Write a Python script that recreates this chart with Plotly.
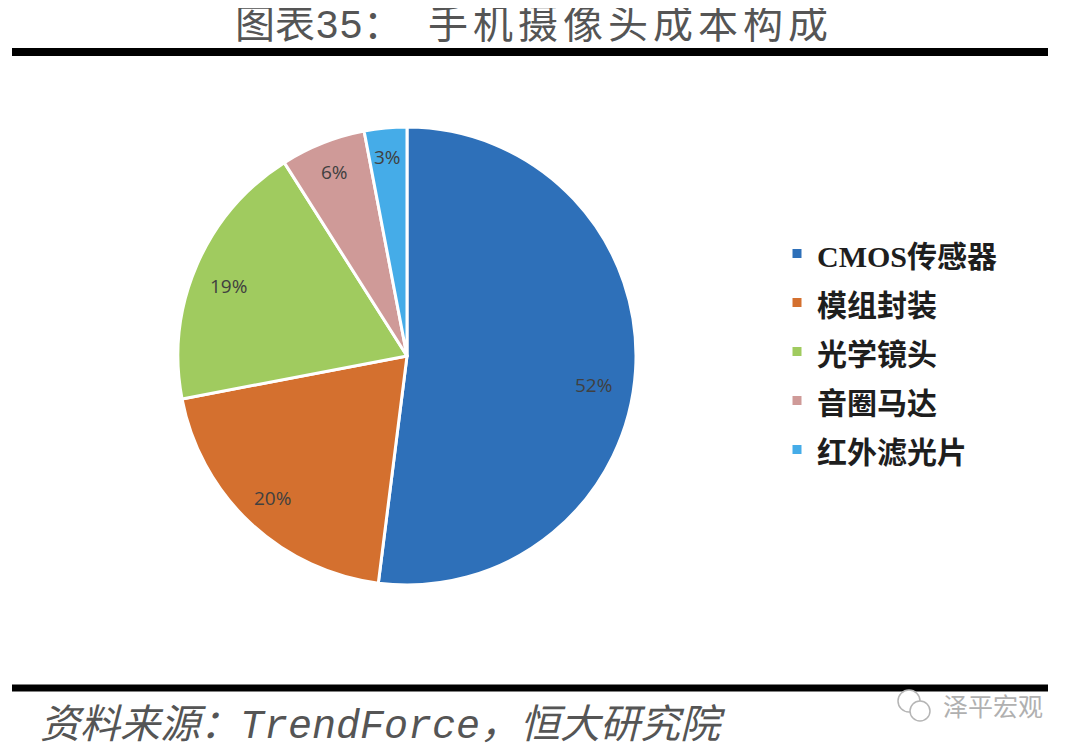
import plotly.graph_objects as go

categories = ["CMOS传感器", "模组封装", "光学镜头", "音圈马达", "红外滤光片"]
values = [52, 20, 19, 6, 3]
colors = ["#2E70B9", "#D4702F", "#A0CB5F", "#CF9A98", "#45ACE8"]
HS = "\u200a\u200a"
title_text = "图表35：\u2002" + HS + HS.join("手机摄像头成本构成")
source_text = "资料来源：TrendForce，恒大研究院"
watermark = "泽平宏观"

# The page is photographed with an 8px body margin, so the figure is smaller
# than the window and every window pixel position is shifted by that margin.
OFFSET = 8
W, H = 1080 - OFFSET, 753 - OFFSET
CJK = "Noto Sans CJK SC"


def px(x):
    return (x - OFFSET) / W


def py(y):
    return 1 - (y - OFFSET) / H


CX, CY, R = 407, 356, 229
label_centers = [(593, 385), (272, 498), (228, 286), (334, 172), (387, 157)]

fig = go.Figure(go.Pie(
    labels=[f'<span style="font-size:30px"><b>{c}</b></span>' for c in categories],
    values=values,
    sort=False,
    direction="clockwise",
    rotation=0,
    marker=dict(colors=colors, line=dict(color="white", width=3)),
    textinfo="none",
    domain=dict(x=[px(CX - R), px(CX + R)], y=[py(CY + R), py(CY - R)]),
    hoverinfo="label+percent",
))

annotations = [
    dict(text=f"{v}%", xref="paper", yref="paper", x=px(x), y=py(y), xanchor="center", yanchor="middle",
         showarrow=False, font=dict(family="Open Sans, " + CJK, size=19, color="#404040"))
    for v, (x, y) in zip(values, label_centers)
]
annotations += [
    dict(text=source_text, xref="paper", yref="paper", x=px(38), xanchor="left", y=py(727), yanchor="middle",
         showarrow=False, font=dict(family="Liberation Mono, " + CJK, size=40, color="#555555", style="italic")),
    dict(text=watermark, xref="paper", yref="paper", x=px(941), xanchor="left", y=py(705), yanchor="middle",
         showarrow=False, font=dict(family=CJK, size=25, color="#b0b0b0")),
]

fig.update_layout(
    width=W, height=H,
    autosize=False,
    margin=dict(l=0, r=0, t=0, b=0),
    paper_bgcolor="white",
    plot_bgcolor="white",
    font=dict(family=CJK, color="#222222"),
    title=dict(
        text=title_text, x=px(235), xanchor="left", xref="paper",
        y=py(24), yanchor="middle", yref="container",
        font=dict(family="Liberation Mono, " + CJK, size=40, color="#555555"),
    ),
    showlegend=True,
    legend=dict(
        x=px(777), xanchor="left", y=py(224), yanchor="top",
        font=dict(family="Liberation Serif, " + CJK, size=35.4, color="#1e1e1e"),
        bgcolor="rgba(0,0,0,0)", itemclick=False, itemdoubleclick=False,
        traceorder="normal",
    ),
    shapes=[
        dict(type="line", xref="paper", yref="paper", x0=px(12), x1=px(1048), y0=py(52), y1=py(52),
             line=dict(color="#000000", width=8)),
        dict(type="line", xref="paper", yref="paper", x0=px(12), x1=px(1048), y0=py(688), y1=py(688),
             line=dict(color="#000000", width=7)),
        dict(type="circle", xref="paper", yref="paper", x0=px(898), x1=px(920), y0=py(712), y1=py(690),
             fillcolor="white", line=dict(color="#b5b5b5", width=1.5)),
        dict(type="circle", xref="paper", yref="paper", x0=px(910), x1=px(930), y0=py(721), y1=py(701),
             fillcolor="white", line=dict(color="#b5b5b5", width=1.5)),
    ],
    annotations=annotations,
)

fig.write_html("out.html", config=dict(displayModeBar=False))
